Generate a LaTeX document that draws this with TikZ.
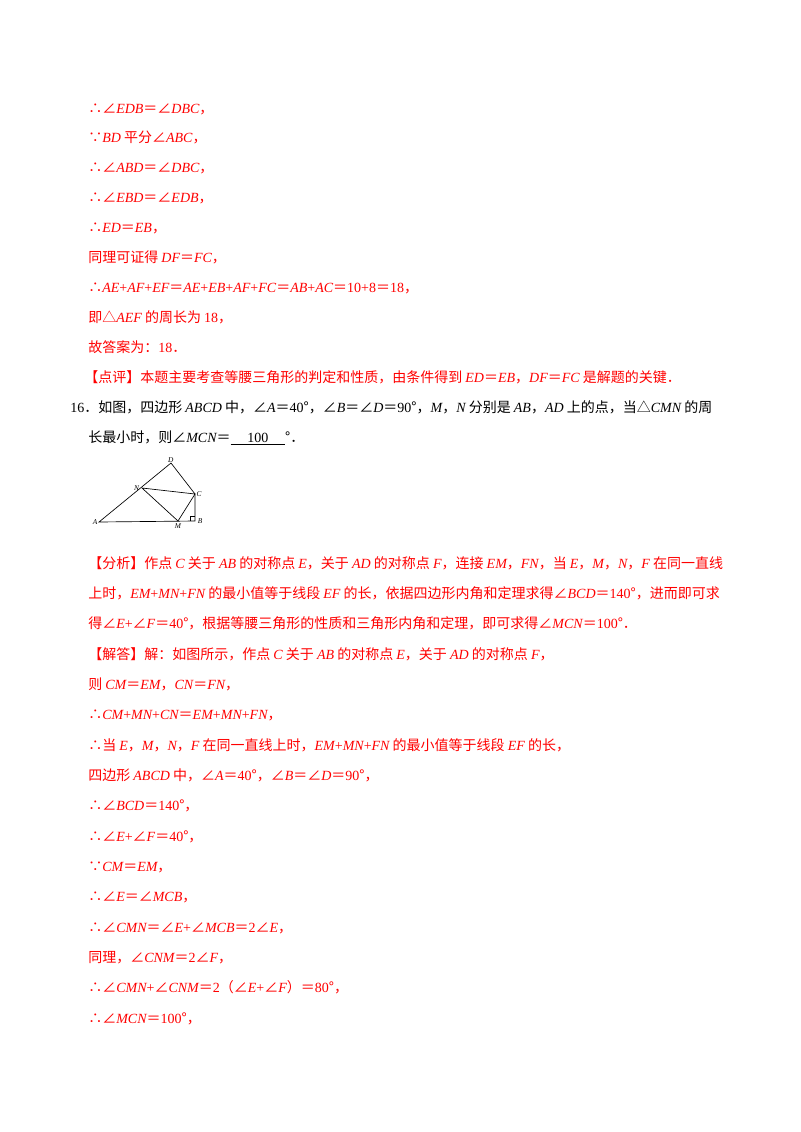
\documentclass[tikz,border=0pt]{standalone}
\usepackage{fontspec}
\usetikzlibrary{positioning}
\setmainfont{Noto Sans CJK SC}
\newfontfamily\tnr{Liberation Serif}
\newcommand{\vr}[1]{{\tnr\itshape #1}}
\newcommand{\nr}[1]{{\tnr #1}}
\definecolor{ansred}{RGB}{255,0,0}
\tikzset{
  txt/.style={anchor=base west, inner sep=0pt, font=\fontsize{10.5}{12}\selectfont},
  red txt/.style={txt, text=ansred},
  lbl/.style={inner sep=0pt, font=\tnr\itshape\fontsize{5.5}{6}\selectfont},
  edge/.style={line width=0.5pt}
}
\begin{document}
\begin{tikzpicture}[x=0.75pt, y=-0.75pt]
    \useasboundingbox (0,0) rectangle (800,1132) ;
    % solution of the previous problem
    \node [red txt] (l1) at (88,113) {∴∠\vr{EDB}＝∠\vr{DBC}，} ;
    \node [red txt] (l2) at (88,142.9) {∵\vr{BD} 平分∠\vr{ABC}，} ;
    \node [red txt] (l3) at (88,172.8) {∴∠\vr{ABD}＝∠\vr{DBC}，} ;
    \node [red txt] (l4) at (88,202.7) {∴∠\vr{EBD}＝∠\vr{EDB}，} ;
    \node [red txt] (l5) at (88,232.6) {∴\vr{ED}＝\vr{EB}，} ;
    \node [red txt] (l6) at (88,262.5) {同理可证得 \vr{DF}＝\vr{FC}，} ;
    \node [red txt] (l7) at (88,292.4) {∴\vr{AE}\nr{+}\vr{AF}\nr{+}\vr{EF}＝\vr{AE}\nr{+}\vr{EB}\nr{+}\vr{AF}\nr{+}\vr{FC}＝\vr{AB}\nr{+}\vr{AC}＝\nr{10+8}＝\nr{18}，} ;
    \node [red txt] (l8) at (88,322.3) {即△\vr{AEF} 的周长为 \nr{18}，} ;
    \node [red txt] (l9) at (88,352.2) {故答案为：\nr{18}．} ;
    \node [red txt] (l10) at (84,382.1) {【点评】本题主要考查等腰三角形的判定和性质，由条件得到 \vr{ED}＝\vr{EB}，\vr{DF}＝\vr{FC} 是解题的关键．} ;
    % problem 16
    \node [txt] (q1) at (70,412) {\nr{16}．如图，四边形 \vr{ABCD} 中，∠\vr{A}＝\nr{40}°，∠\vr{B}＝∠\vr{D}＝\nr{90}°，\vr{M}，\vr{N} 分别是 \vr{AB}，\vr{AD} 上的点，当△\vr{CMN} 的周} ;
    \node [txt] (q2) at (88,442) {长最小时，则∠\vr{MCN}＝\underline{\nr{\hspace{1.2em}100\hspace{1.2em}}}°．} ;
    % figure
    \coordinate (A) at (99,522) ;
    \coordinate (B) at (195,521) ;
    \coordinate (C) at (195,494) ;
    \coordinate (D) at (171,463) ;
    \coordinate (N) at (142,488) ;
    \coordinate (M) at (178,521) ;
    \draw [edge] (A) -- (B) -- (C) -- (D) -- cycle ;
    \draw [edge] (N) -- (C) -- (M) -- cycle ;
    \draw [line width=0.4pt] (190,521) -- ++(0,-5) -- ++(5,0) ;
    \node [lbl, left=1pt of A] (la) {A} ;
    \node [lbl, right=2pt of B] (lb) {B} ;
    \node [lbl, right=1pt of C] (lc) {C} ;
    \node [lbl, above left=0pt and -2pt of D] (ld) {D} ;
    \node [lbl, left=2pt of N] (ln) {N} ;
    \node [lbl, below=1.5pt of M] (lm) {M} ;
    % analysis and solution
    \node [red txt] (a1) at (88,568) {【分析】作点 \vr{C} 关于 \vr{AB} 的对称点 \vr{E}，关于 \vr{AD} 的对称点 \vr{F}，连接 \vr{EM}，\vr{FN}，当 \vr{E}，\vr{M}，\vr{N}，\vr{F} 在同一直线} ;
    \node [red txt] (a2) at (88,598.3) {上时，\vr{EM}\nr{+}\vr{MN}\nr{+}\vr{FN} 的最小值等于线段 \vr{EF} 的长，依据四边形内角和定理求得∠\vr{BCD}＝\nr{140}°，进而即可求} ;
    \node [red txt] (a3) at (88,628.7) {得∠\vr{E}\nr{+}∠\vr{F}＝\nr{40}°，根据等腰三角形的性质和三角形内角和定理，即可求得∠\vr{MCN}＝\nr{100}°．} ;
    \node [red txt] (s1) at (88,659) {【解答】解：如图所示，作点 \vr{C} 关于 \vr{AB} 的对称点 \vr{E}，关于 \vr{AD} 的对称点 \vr{F}，} ;
    \node [red txt] (s2) at (88,689.3) {则 \vr{CM}＝\vr{EM}，\vr{CN}＝\vr{FN}，} ;
    \node [red txt] (s3) at (88,719.7) {∴\vr{CM}\nr{+}\vr{MN}\nr{+}\vr{CN}＝\vr{EM}\nr{+}\vr{MN}\nr{+}\vr{FN}，} ;
    \node [red txt] (s4) at (88,750) {∴当 \vr{E}，\vr{M}，\vr{N}，\vr{F} 在同一直线上时，\vr{EM}\nr{+}\vr{MN}\nr{+}\vr{FN} 的最小值等于线段 \vr{EF} 的长，} ;
    \node [red txt] (s5) at (88,780.3) {四边形 \vr{ABCD} 中，∠\vr{A}＝\nr{40}°，∠\vr{B}＝∠\vr{D}＝\nr{90}°，} ;
    \node [red txt] (s6) at (88,810.7) {∴∠\vr{BCD}＝\nr{140}°，} ;
    \node [red txt] (s7) at (88,841) {∴∠\vr{E}\nr{+}∠\vr{F}＝\nr{40}°，} ;
    \node [red txt] (s8) at (88,871.3) {∵\vr{CM}＝\vr{EM}，} ;
    \node [red txt] (s9) at (88,901.7) {∴∠\vr{E}＝∠\vr{MCB}，} ;
    \node [red txt] (s10) at (88,932) {∴∠\vr{CMN}＝∠\vr{E}\nr{+}∠\vr{MCB}＝\nr{2}∠\vr{E}，} ;
    \node [red txt] (s11) at (88,962.3) {同理，∠\vr{CNM}＝\nr{2}∠\vr{F}，} ;
    \node [red txt] (s12) at (88,992.7) {∴∠\vr{CMN}\nr{+}∠\vr{CNM}＝\nr{2}（∠\vr{E}\nr{+}∠\vr{F}）＝\nr{80}°，} ;
    \node [red txt] (s13) at (88,1023) {∴∠\vr{MCN}＝\nr{100}°，} ;
\end{tikzpicture}
\end{document}
